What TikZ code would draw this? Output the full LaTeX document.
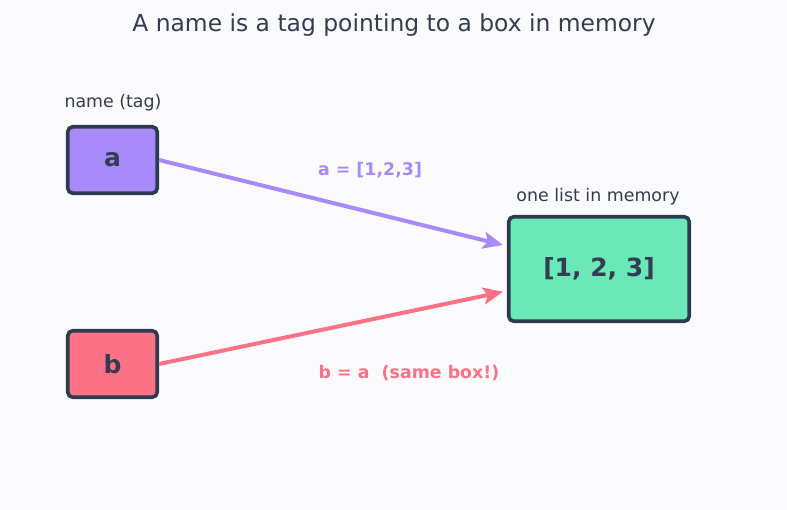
\documentclass[tikz,border=0pt]{standalone}
\usepackage{fontspec}
\setmainfont{DejaVu Sans}
\usetikzlibrary{arrows.meta}
\definecolor{bgcol}{HTML}{FBFBFE}
\definecolor{ink}{HTML}{343D4F}
\definecolor{edge}{HTML}{2E3A50}
\definecolor{violet}{HTML}{A78BFA}
\definecolor{rose}{HTML}{FB7185}
\definecolor{mint}{HTML}{6AE8B8}
\tikzset{
  namebox/.style={draw=edge, line width=3.6pt, rounded corners=5pt,
    minimum width=89.5pt, minimum height=66.5pt, inner sep=0pt,
    text=ink, font=\fontsize{25}{29}\selectfont\bfseries},
  membox/.style={namebox, minimum width=180.5pt, minimum height=104.5pt},
  caption/.style={text=ink, font=\fontsize{17.4}{21}\selectfont},
  ref/.style={line width=4pt, -{Stealth[length=20pt,width=17pt,inset=4.5pt]}, shorten >=4pt},
  reflabel/.style={font=\fontsize{17.4}{21}\selectfont\bfseries}
}
\begin{document}
\begin{tikzpicture}[x=1pt,y=-1pt]
  \fill[bgcol] (0,0) rectangle (787,510);
  \useasboundingbox (0,0) rectangle (787,510);

  \node[text=ink, font=\fontsize{23.4}{28}\selectfont] (title) at (394,25)
    {A name is a tag pointing to a box in memory};

  % the two names
  \node[namebox, fill=violet] (a) at (112.5,160) {a};
  \node[namebox, fill=rose] (b) at (112.5,364) {b};
  \node[caption] (tag) at (113,103) {name (tag)};

  % the single list object
  \node[membox, fill=mint] (list) at (599,269) {[1, 2, 3]};
  \node[caption] (mem) at (598,197) {one list in memory};

  % references
  \draw[ref, violet] (a.east) -- ([yshift=23pt]list.west);
  \draw[ref, rose] (b.east) -- ([yshift=-22pt]list.west);

  \node[reflabel, text=violet] (la) at (370,170) {a = [1,2,3]};
  \node[reflabel, text=rose] (lb) at (409,373) {b = a\ \ (same box!)};
\end{tikzpicture}
\end{document}
